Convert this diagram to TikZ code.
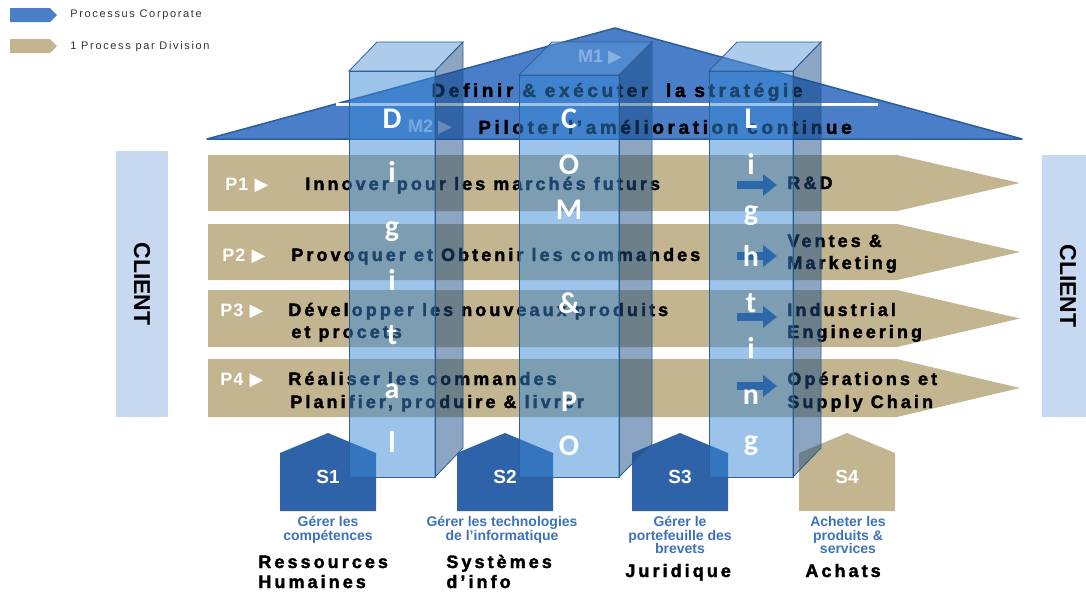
\documentclass[tikz,border=0pt]{standalone}
\usepackage{fontspec}
\setmainfont{Liberation Sans}
\newfontfamily\symfont{DejaVu Sans}
\newfontfamily\pillarfont{Carlito}
\usetikzlibrary{arrows.meta}
\definecolor{corpblue}{HTML}{4A7EC8}
\definecolor{roofline}{HTML}{2C5E9E}
\definecolor{divtan}{HTML}{C2B58F}
\definecolor{clientblue}{HTML}{C6D9F1}
\definecolor{supblue}{HTML}{2F63A9}
\definecolor{textblue}{HTML}{3D72BA}
\definecolor{pilfront}{HTML}{3987D5}
\definecolor{pilside}{HTML}{1A4C85}
\definecolor{piltop}{HTML}{5B97D8}
\definecolor{pilline}{HTML}{2F5F96}
\definecolor{mlight}{HTML}{B7CCE8}
\definecolor{arrowblue}{HTML}{1F497D}
\tikzset{
  legtext/.style={anchor=west, inner sep=0pt, text=black!80,
    font=\fontsize{11}{11}\selectfont\addfontfeature{LetterSpace=15}},
  rooftext/.style={inner sep=0pt,
    font=\fontsize{19}{19}\selectfont\bfseries\addfontfeature{LetterSpace=19,FakeBold=2}},
  mtext/.style={inner sep=0pt, text=mlight, font=\fontsize{18}{18}\selectfont\bfseries},
  rowtext/.style={anchor=base west, inner sep=0pt,
    font=\fontsize{18}{18}\selectfont\bfseries\addfontfeature{LetterSpace=17,FakeBold=2}},
  ptext/.style={anchor=base west, inner sep=0pt, text=white,
    font=\fontsize{18}{18}\selectfont\bfseries\addfontfeature{LetterSpace=6}},
  clienttext/.style={rotate=-90, inner sep=0pt, font=\fontsize{23}{23}\selectfont\bfseries},
  divarrow/.style={arrowblue, line width=8pt, -{Triangle[length=14pt,width=21pt]}},
  stext/.style={inner sep=0pt, text=white, font=\fontsize{19}{19}\selectfont\bfseries},
  gtext/.style={inner sep=0pt, align=center, text=textblue,
    font=\fontsize{14}{13.5}\selectfont\bfseries},
  front/.style={fill=pilfront, fill opacity=0.5, draw=pilline, line width=0.8pt},
  side/.style={fill=pilside, fill opacity=0.5, draw=pilline, line width=0.8pt},
  topface/.style={fill=piltop, fill opacity=0.5, draw=pilline, line width=0.8pt},
  pilletter/.style={anchor=base, inner sep=0pt, text=white,
    font=\pillarfont\bfseries\fontsize{30}{30}\selectfont}
}
\begin{document}
\begin{tikzpicture}
[x=1pt, y=-1pt, line width=0.8pt]
\useasboundingbox (0,0) rectangle (1086,592);
%% Legend
\fill[corpblue] (10,8) -- (50,8) -- (57,15) -- (50,22) -- (10,22) -- cycle;
\node[legtext] (lg1) at (70,15) {Processus Corporate};
\fill[divtan] (10,39) -- (50,39) -- (57,46) -- (50,53) -- (10,53) -- cycle;
\node[legtext] (lg2) at (70,47) {1 Process par Division};
%% Roof
\draw[fill=corpblue, draw=roofline, line width=1.5pt, line join=round]
  (207,139) -- (615,28) -- (1022,139) -- cycle;
\draw[white, line width=3pt] (337,99) -- (337,104) -- (878,104); %% white rule
\node[mtext] (m1) at (600,57) {M1 {\symfont ▶}};
\node[rooftext] (m1t) at (617,92) {Definir \& exécuter~ la stratégie};
\node[mtext] (m2) at (430,127) {M2 {\symfont ▶}};
\node[rooftext] (m2t) at (665,127) {Piloter l'amélioration continue};
%% Client
\fill[clientblue] (116,151) rectangle (168,417);
\node[clienttext] (cl1) at (142,284) {CLIENT};
\fill[clientblue] (1042,155) rectangle (1086,417);
\node[clienttext] (cl2) at (1068,286) {CLIENT};
%% Process rows
\foreach \yt/\yb in {155/211, 224/280, 290/347, 359/417}
  \fill[divtan] (208,\yt) -- (897,\yt) -- (1020,{(\yt+\yb)/2}) -- (897,\yb) -- (208,\yb) -- cycle;
\node[ptext] (p1) at (225,190) {P1 {\symfont ▶}};
\node[rowtext] (p1a) at (305,190) {Innover pour les marchés futurs};
\node[ptext] (p2) at (222,261) {P2 {\symfont ▶}};
\node[rowtext] (p2a) at (291,261) {Provoquer et Obtenir les commandes};
\node[ptext] (p3) at (220,316) {P3 {\symfont ▶}};
\node[rowtext] (p3a) at (288,316) {Développer les nouveaux produits};
\node[rowtext] (p3b) at (291,338) {et procets};
\node[ptext] (p4) at (220,385) {P4 {\symfont ▶}};
\node[rowtext] (p4a) at (288,385) {Réaliser les commandes};
\node[rowtext] (p4b) at (290,408) {Planifier, produire \& livrer};
%% Divisions
\foreach \y in {185,256,317,386}
  \draw[divarrow] (737,\y) -- (777,\y);
\node[rowtext] (dv1) at (787,189) {R\&D};
\node[rowtext] (dv2a) at (787,247) {Ventes \&};
\node[rowtext] (dv2b) at (787,269) {Marketing};
\node[rowtext] (dv3a) at (787,316) {Industrial};
\node[rowtext] (dv3b) at (787,338) {Engineering};
\node[rowtext] (dv4a) at (787,385) {Opérations et};
\node[rowtext] (dv4b) at (787,408) {Supply Chain};
%% Support houses
\foreach \x/\c in {328/supblue, 505/supblue, 680/supblue, 847/divtan}
  \fill[\c] (\x-48,511) -- (\x-48,453) -- (\x,433) -- (\x+48,453) -- (\x+48,511) -- cycle;
\node[stext] (s1) at (328,477) {S1};
\node[stext] (s2) at (505,477) {S2};
\node[stext] (s3) at (680,477) {S3};
\node[stext] (s4) at (847,477) {S4};
\node[gtext] (g1) at (328,530) {Gérer les\\compétences};
\node[gtext] (g2) at (502,530) {Gérer les technologies\\de l'informatique};
\node[gtext] (g3) at (680,535) {Gérer le\\portefeuille des\\brevets};
\node[gtext] (g4) at (848,535) {Acheter les\\produits \&\\services};
\node[rowtext] (n1a) at (258,568) {Ressources};
\node[rowtext] (n1b) at (258,588) {Humaines};
\node[rowtext] (n2a) at (446,568) {Systèmes};
\node[rowtext] (n2b) at (446,588) {d'info};
\node[rowtext] (n3) at (625,577) {Juridique};
\node[rowtext] (n4) at (805,577) {Achats};
%% Pillar Digital
\draw[front] (349,71) rectangle (435,477);
\draw[side] (435,71) -- (463,42) -- (463,448) -- (435,477) -- cycle;
\draw[topface] (349,71) -- (377,42) -- (463,42) -- (435,71) -- cycle;
\foreach \ch [count=\i from 0] in {D,i,g,i,t,a,l}
  \node[pilletter] (dg\i) at (392,128+54*\i) {\ch};
%% Pillar COM&PO
\draw[front] (519,75) rectangle (619,477);
\draw[side] (619,75) -- (652,42) -- (652,444) -- (619,477) -- cycle;
\draw[topface] (519,75) -- (552,42) -- (652,42) -- (619,75) -- cycle;
\foreach \ch/\yy [count=\i] in {C/128,O/174,M/219,\&/313,P/411,O/455}
  \node[pilletter] (cp\i) at (569,\yy) {\ch};
%% Pillar Lighting
\draw[front] (709,71) rectangle (793,477);
\draw[side] (793,71) -- (821,42) -- (821,448) -- (793,477) -- cycle;
\draw[topface] (709,71) -- (737,42) -- (821,42) -- (793,71) -- cycle;
\foreach \ch [count=\i from 0] in {L,i,g,h,t,i,n,g}
  \node[pilletter] (lg\i) at (751,128+46*\i) {\ch};
\end{tikzpicture}
\end{document}
